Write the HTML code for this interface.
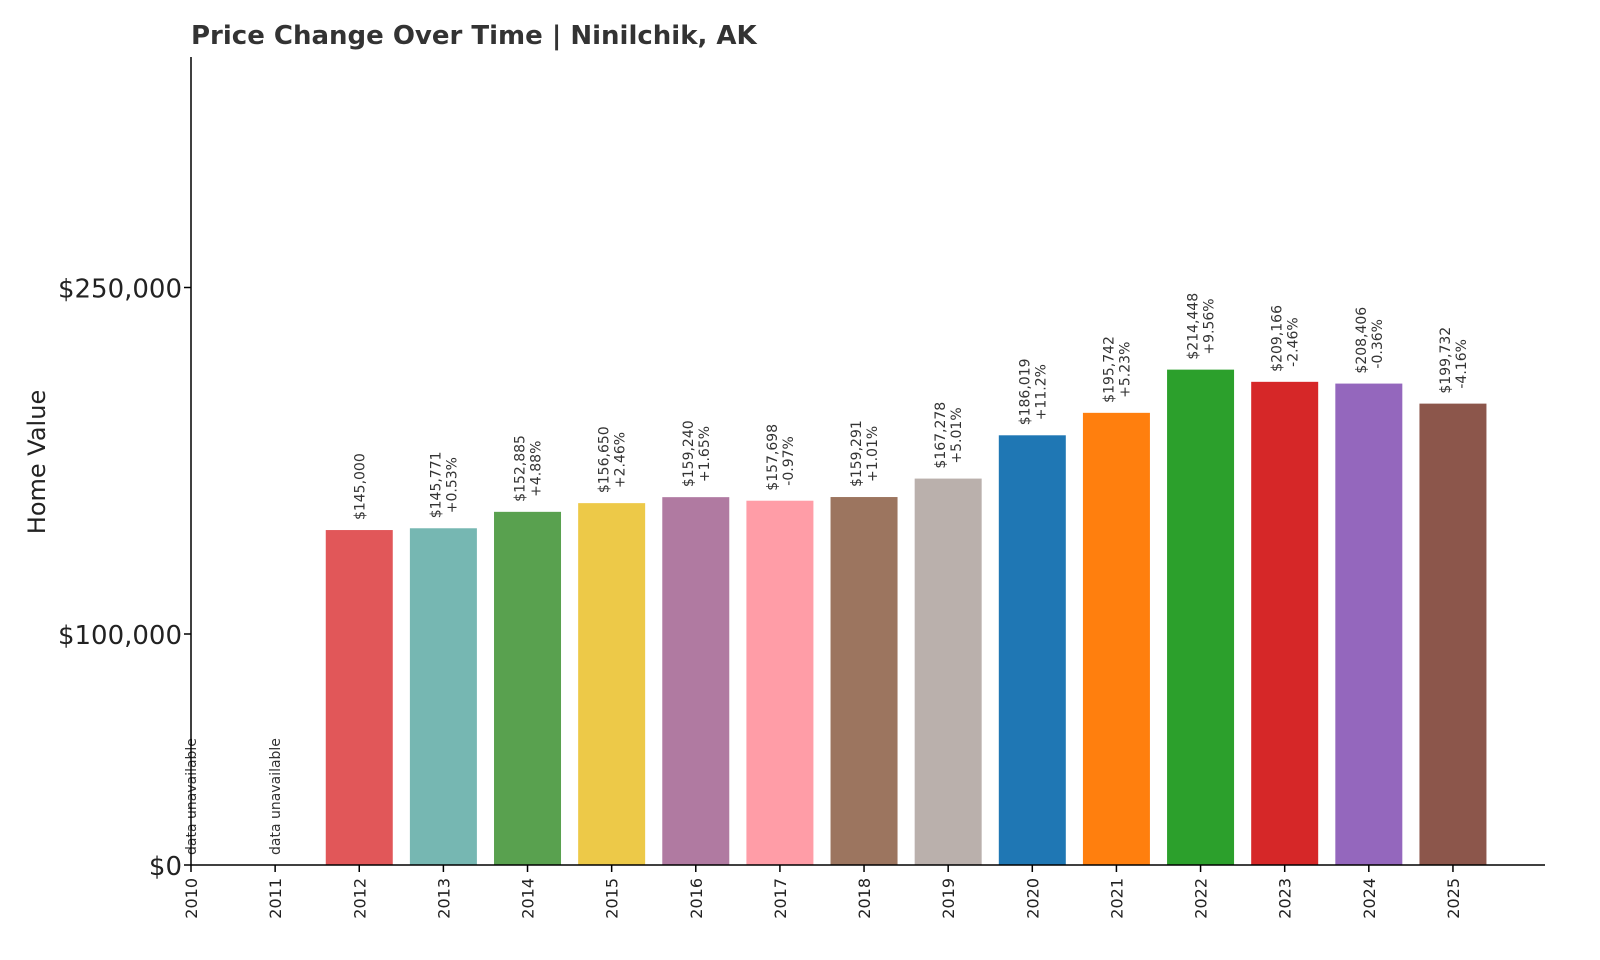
<!DOCTYPE html>
<html><head><meta charset="utf-8"><style>
body{margin:0;background:#fff;}
svg{display:block;font-family:"DejaVu Sans","Liberation Sans",sans-serif;}
</style></head><body>
<svg id="chart" width="1600" height="960" viewBox="0 0 1600 960">
<text x="191" y="44" font-size="26" font-weight="bold" fill="#333">Price Change Over Time | Ninilchik, AK</text>
<text transform="translate(45,462) rotate(-90)" text-anchor="middle" font-size="24" fill="#222">Home Value</text>
<g id="marks"></g>
<line x1="191" y1="57" x2="191" y2="865" stroke="#000" stroke-width="1.5"/>
<line x1="191" y1="865" x2="1545" y2="865" stroke="#000" stroke-width="1.5"/>
</svg>
<script>
const years = [2010,2011,2012,2013,2014,2015,2016,2017,2018,2019,2020,2021,2022,2023,2024,2025];
const values = [null,null,145000,145771,152885,156650,159240,157698,159291,167278,186019,195742,214448,209166,208406,199732];
const valueLabels = ["","","$145,000","$145,771","$152,885","$156,650","$159,240","$157,698","$159,291","$167,278","$186,019","$195,742","$214,448","$209,166","$208,406","$199,732"];
const pctLabels = ["","","","+0.53%","+4.88%","+2.46%","+1.65%","-0.97%","+1.01%","+5.01%","+11.2%","+5.23%","+9.56%","-2.46%","-0.36%","-4.16%"];
const yTicks = [0,100000,250000];
const yTickLabels = ["$0","$100,000","$250,000"];
const colors = ["#e15759","#e15759","#e15759","#76b7b2","#59a14f","#edc948","#b07aa1","#ff9da7","#9c755f","#bab0ac","#1f77b4","#ff7f0e","#2ca02c","#d62728","#9467bd","#8c564b"];
const NS="http://www.w3.org/2000/svg";
const g=document.getElementById('marks');
const x0=191, step=84.13, y0=865, ppu=2.31/1000, bw=67;
const xs=i=>x0+i*step;
const ys=v=>y0-v*ppu;
function mk(t,a){const e=document.createElementNS(NS,t);for(const k in a)e.setAttribute(k,a[k]);g.appendChild(e);return e;}
yTicks.forEach((v,i)=>{
  const l=mk('line',{x1:184,x2:191,y1:ys(v),y2:ys(v),stroke:'#000','stroke-width':1.5});
  
  
  const t=mk('text',{x:182,y:ys(v)+10,'text-anchor':'end','font-size':26,fill:'#222'});
  
  
  t.textContent=yTickLabels[i];
});
years.forEach((yr,i)=>{
  const cx=xs(i);
  const tk=mk('line',{x1:cx,x2:cx,y1:865,y2:872,stroke:'#000','stroke-width':1.5});
  
  
  const t=mk('text',{transform:`translate(${cx+6},878) rotate(-90)`,'text-anchor':'end','font-size':16,fill:'#222'});
  
  
  t.textContent=yr;
  const v=values[i];
  if(v==null){
    const u=mk('text',{transform:`translate(${cx+5},855) rotate(-90)`,'font-size':14,fill:'#333'});
    
    
    u.textContent='data unavailable';
    return;
  }
  const r=mk('rect',{x:cx-bw/2,y:ys(v),width:bw,height:y0-ys(v),fill:colors[i]});
  
  
  const top=ys(v)-10;
  if(pctLabels[i]){
    const a=mk('text',{transform:`translate(${cx-3},${top}) rotate(-90)`,'font-size':14,fill:'#333'});
    
    
    a.textContent=valueLabels[i];
    const b=mk('text',{transform:`translate(${cx+13},${top-5}) rotate(-90)`,'font-size':14,fill:'#333'});
    
    
    b.textContent=pctLabels[i];
  } else {
    const a=mk('text',{transform:`translate(${cx+5},${top}) rotate(-90)`,'font-size':14,fill:'#333'});
    
    
    a.textContent=valueLabels[i];
  }
});
</script>
</body></html>
